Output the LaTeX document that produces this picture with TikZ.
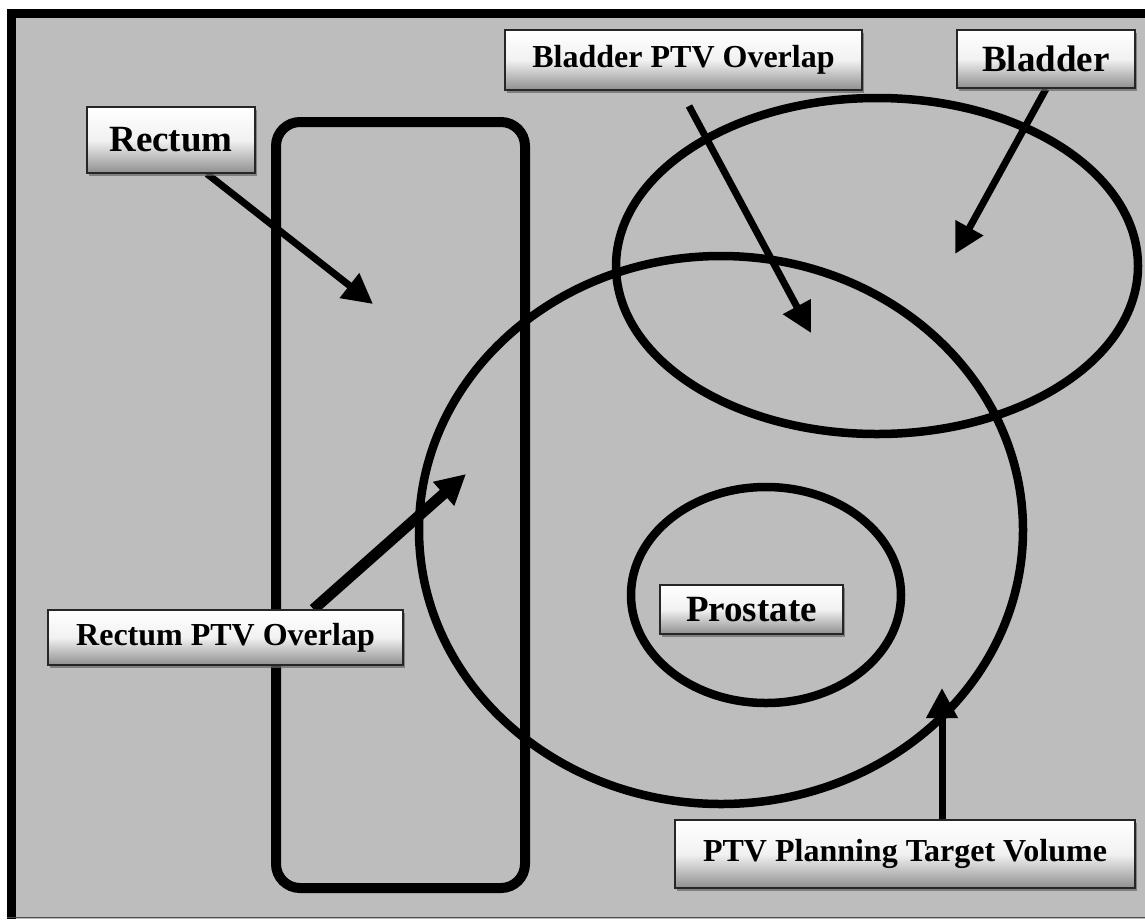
\documentclass[tikz,border=0pt]{standalone}
\usepackage{fontspec}
\setmainfont{Liberation Serif}
\usetikzlibrary{arrows.meta,shadows}
\pgfdeclarelayer{bg}
\pgfsetlayers{bg,main}
\definecolor{page}{gray}{0.74}
\definecolor{boxlow}{gray}{0.56}
\tikzset{
  tag/.style={draw=black!85, line width=1.6pt, inner sep=0pt,
    top color=white, bottom color=boxlow, middle color=white!88!boxlow,
    drop shadow={shadow xshift=2pt, shadow yshift=-3pt, fill=black!60, opacity=0.7},
    font=\bfseries},
  bigtag/.style={tag, font=\fontsize{37}{40}\selectfont\bfseries},
  smalltag/.style={tag, font=\fontsize{32}{35}\selectfont\bfseries},
  organ/.style={draw=black, line width=8.5pt},
  pointer/.style={draw=black, line width=7pt, -{Triangle[length=30pt,width=30pt]}},
}
\begin{document}
\begin{tikzpicture}[x=1pt,y=-1pt]
\useasboundingbox (0,0) rectangle (1145,919);

% labels
\node[bigtag, minimum width=168pt, minimum height=66pt] (rectum) at (171,140) {Rectum};
\node[smalltag, minimum width=357pt, minimum height=60pt] (bladderptv) at (683.5,60) {Bladder PTV Overlap};
\node[bigtag, minimum width=178pt, minimum height=58pt] (bladder) at (1046,59) {Bladder};
\node[smalltag, minimum width=355pt, minimum height=55pt] (rectumptv) at (225.5,637.5) {Rectum PTV Overlap};
\node[bigtag, minimum width=183pt, minimum height=49pt] (prostate) at (751.5,609.5) {Prostate};
\node[smalltag, minimum width=460pt, minimum height=68pt] (ptv) at (905,854) {PTV Planning Target Volume};

% arrow end points
\coordinate (rectumTip) at (373,304);
\coordinate (bptvStart) at (689,106);
\coordinate (bptvTip) at (811,333);
\coordinate (bladderTip) at (955,254);
\coordinate (rptvTip) at (466,474);
\coordinate (ptvTip) at (942,688);

\begin{pgfonlayer}{bg}
  % page and frame
  \fill[page] (7,10) rectangle (1145,919);
  \draw[line width=9pt] (11.5,919) -- (11.5,13.5) -- (1145,13.5);
  \draw[line width=1.5pt, black!70] (7,917.5) -- (1145,917.5);

  % structures
  \draw[organ, line width=10pt, rounded corners=24pt] (276,122) rectangle (525,888);
  \draw[organ] (877,266) ellipse [x radius=261pt, y radius=168pt];
  \draw[organ] (721,530) ellipse [x radius=302pt, y radius=274pt];
  \draw[organ] (766,595) ellipse [x radius=135pt, y radius=108pt];

  % pointers
  \draw[pointer] ([xshift=36pt]rectum.south) -- (rectumTip);
  \draw[pointer] (bptvStart) -- (bptvTip);
  \draw[pointer] (bladder.south) -- (bladderTip);
  \draw[pointer, line width=11pt] ([xshift=88pt]rectumptv.north) -- (rptvTip);
  \draw[pointer] ([xshift=37pt]ptv.north) -- (ptvTip);
\end{pgfonlayer}
\end{tikzpicture}
\end{document}
